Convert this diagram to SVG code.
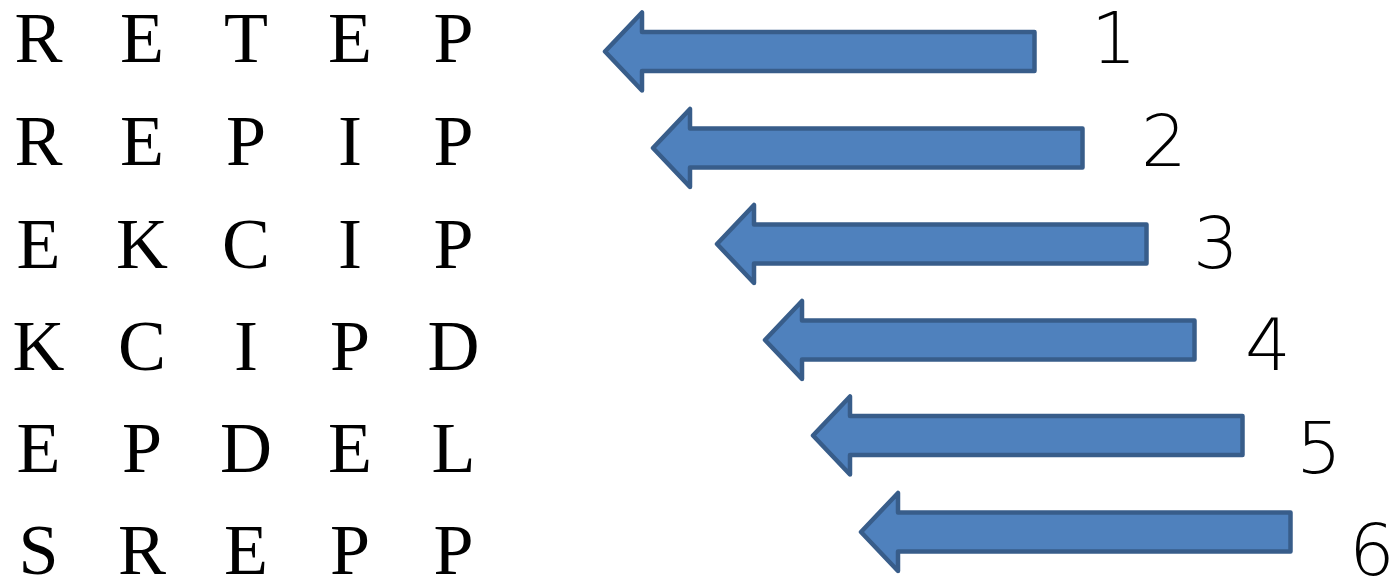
<svg xmlns="http://www.w3.org/2000/svg" xmlns:xlink="http://www.w3.org/1999/xlink" width="1398" height="580" viewBox="0 0 1398 580">
<style>
.lt{font-family:"Liberation Serif","Times New Roman",serif;font-size:72px;fill:#000;text-anchor:middle}
.num{font-family:"DejaVu Sans","Liberation Sans",sans-serif;font-weight:200;font-size:72px;fill:#000}
.arr{fill:#4F81BD;stroke:#385D8A;stroke-width:4.5;stroke-linejoin:round}
</style>
<defs>
<path id="ba" d="M0,0 L37,-39 L37,-19.5 L429.5,-19.5 L429.5,19.5 L37,19.5 L37,39 Z"/>
</defs>
<rect width="1398" height="580" fill="#fff"/>
<g id="letters">
<g id="row1"><text class="lt" x="38.5 142 246 350 453.5" y="62">RETEP</text></g>
<g id="row2"><text class="lt" x="38.5 142 246 350 453.5" y="165">REPIP</text></g>
<g id="row3"><text class="lt" x="38.5 142 246 350 453.5" y="268">EKCIP</text></g>
<g id="row4"><text class="lt" x="38.5 142 246 350 453.5" y="370">KCIPD</text></g>
<g id="row5"><text class="lt" x="38.5 142 246 350 453.5" y="472">EPDEL</text></g>
<g id="row6"><text class="lt" x="38.5 142 246 350 453.5" y="574">SREPP</text></g>
</g>
<g id="arrows">
<g id="arrow1"><use xlink:href="#ba" href="#ba" class="arr" transform="translate(605,51.5)"/></g>
<g id="arrow2"><use xlink:href="#ba" href="#ba" class="arr" transform="translate(653,148)"/></g>
<g id="arrow3"><use xlink:href="#ba" href="#ba" class="arr" transform="translate(717,244)"/></g>
<g id="arrow4"><use xlink:href="#ba" href="#ba" class="arr" transform="translate(765,340)"/></g>
<g id="arrow5"><use xlink:href="#ba" href="#ba" class="arr" transform="translate(813,435.5)"/></g>
<g id="arrow6"><use xlink:href="#ba" href="#ba" class="arr" transform="translate(861,532)"/></g>
</g>
<g id="numbers">
<g id="n1"><text class="num" x="1091" y="63">1</text></g>
<g id="n2"><text class="num" x="1141" y="166">2</text></g>
<g id="n3"><text class="num" x="1193" y="268">3</text></g>
<g id="n4"><text class="num" x="1245" y="370">4</text></g>
<g id="n5"><text class="num" x="1296" y="473">5</text></g>
<g id="n6"><text class="num" x="1349" y="575">6</text></g>
</g>
</svg>
